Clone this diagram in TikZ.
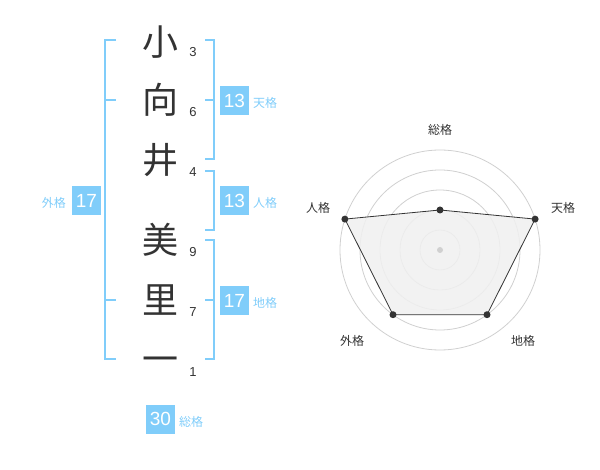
\documentclass[tikz,border=0pt]{standalone}
\usepackage{fontspec}
\setmainfont{Liberation Sans}
\newfontfamily\jp{Noto Sans CJK JP}
\definecolor{kblue}{RGB}{128,205,250}
\definecolor{ink}{RGB}{51,51,51}
\definecolor{ring}{RGB}{208,208,208}
\definecolor{area}{RGB}{240,240,240}
\tikzset{
  kanji/.style={font=\jp\fontsize{36}{36}\selectfont, text=ink, inner sep=0pt, text height=31.7pt, text depth=4.3pt},
  strokes/.style={font=\fontsize{13}{13}\selectfont, text=ink, inner sep=0pt},
  scorebox/.style={fill=kblue, text=white, minimum width=29pt, minimum height=29pt, inner sep=0pt, font=\fontsize{19}{19}\selectfont},
  scorelab/.style={font=\jp\fontsize{12}{12}\selectfont, text=kblue, inner sep=0pt},
  bracket/.style={draw=kblue, line width=2pt},
  radarlab/.style={font=\jp\fontsize{12}{12}\selectfont, text=ink, inner sep=0pt},
  ringline/.style={draw=ring, line width=0.8pt},
  dot/.style={circle, fill=ink, minimum size=7pt, inner sep=0pt},
}
\begin{document}
\begin{tikzpicture}[x=1pt,y=-1pt]
\useasboundingbox (0,0) rectangle (600,470);
% name characters
\node[kanji] (k1) at (160,42) {小};
\node[kanji] (k2) at (160,100) {向};
\node[kanji] (k3) at (160,160) {井};
\node[kanji] (k4) at (160,240) {美};
\node[kanji] (k5) at (160,300) {里};
\node[kanji] (k6) at (160,359) {一};
% stroke counts
\node[strokes] (s1) at (193,52) {3};
\node[strokes] (s2) at (193,112.5) {6};
\node[strokes] (s3) at (193,172) {4};
\node[strokes] (s4) at (193,252) {9};
\node[strokes] (s5) at (193,312.5) {7};
\node[strokes] (s6) at (193,372) {1};
% brackets
\draw[bracket] (116,40) -| (105,359) -- (116,359);
\draw[bracket] (105,100) -- (116,100);
\draw[bracket] (105,300) -- (116,300);
\draw[bracket] (205,40) -| (214,159) -- (205,159);
\draw[bracket] (205,100) -- (214,100);
\draw[bracket] (205,171) -| (214,230) -- (205,230);
\draw[bracket] (205,240) -| (214,359) -- (205,359);
\draw[bracket] (205,300) -- (214,300);
% score boxes
\node[scorebox] (ten) at (234.5,100.5) {13};
\node[scorelab, anchor=west] (tenl) at (253,103) {天格};
\node[scorebox] (jin) at (234.5,200.5) {13};
\node[scorelab, anchor=west] (jinl) at (253,203) {人格};
\node[scorebox] (chi) at (234.5,300.5) {17};
\node[scorelab, anchor=west] (chil) at (253,303) {地格};
\node[scorebox] (gai) at (86.5,200.5) {17};
\node[scorelab, anchor=east] (gail) at (66,203) {外格};
\node[scorebox] (sou) at (160.5,419) {30};
\node[scorelab, anchor=west] (soul) at (179,422) {総格};
% radar chart
\coordinate (c) at (440,250);
\foreach \r in {20,40,60,80,100} \draw[ringline] (c) circle[radius=\r pt];
\coordinate (p1) at (440,210);
\coordinate (p2) at (535.1,219.1);
\coordinate (p3) at (487.0,314.7);
\coordinate (p4) at (393.0,314.7);
\coordinate (p5) at (344.9,219.1);
\filldraw[fill=area, fill opacity=0.85, draw=ink, line width=0.8pt] (p1) -- (p2) -- (p3) -- (p4) -- (p5) -- cycle;
\node[circle, fill=ring, minimum size=6pt, inner sep=0pt] (cd) at (c) {};
\foreach \p in {p1,p2,p3,p4,p5} \node[dot] at (\p) {};
\node[radarlab] (r1) at (440,130) {総格};
\node[radarlab] (r2) at (563,208) {天格};
\node[radarlab] (r3) at (523,341) {地格};
\node[radarlab] (r4) at (352,341) {外格};
\node[radarlab] (r5) at (318,208) {人格};
\end{tikzpicture}
\end{document}
